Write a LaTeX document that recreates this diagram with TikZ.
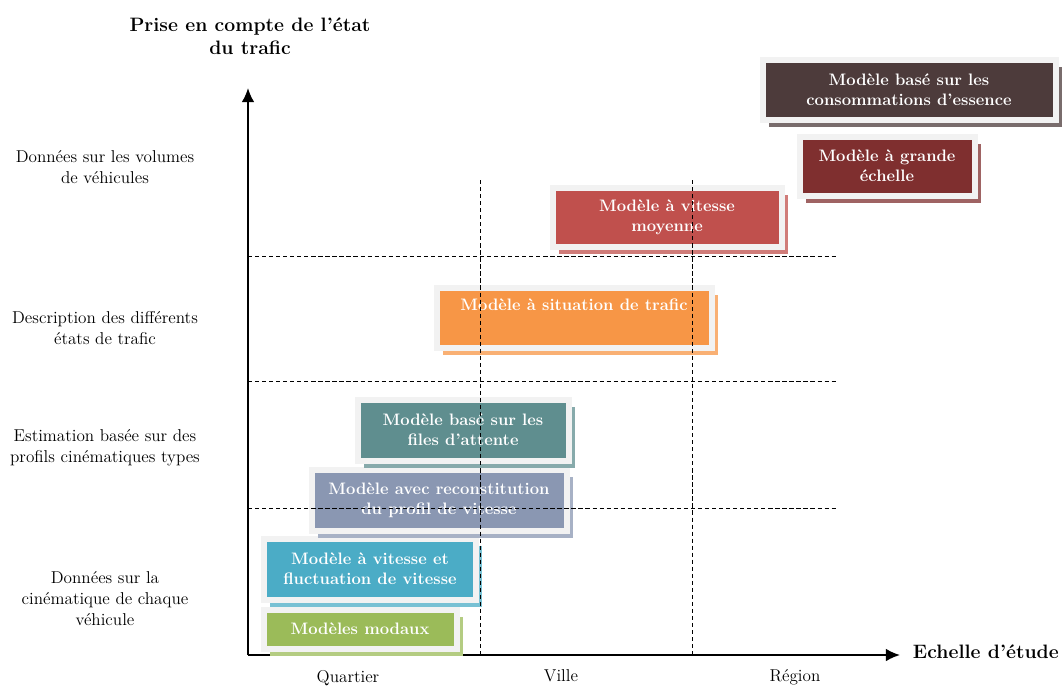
\documentclass[tikz,border=0pt]{standalone}
\usepackage{tikz}
\usetikzlibrary{
  positioning, arrows.meta,
  shadows
}
\definecolor{cadre}{HTML}{F2F2F2}
\definecolor{essence}{HTML}{4D3B3B}
\definecolor{grande}{HTML}{7F2F2F}
\definecolor{moyenne}{HTML}{C0504D}
\definecolor{situation}{HTML}{F79646}
\definecolor{attente}{HTML}{5F8E8F}
\definecolor{profil}{HTML}{8A97B2}
\definecolor{fluct}{HTML}{4BACC6}
\definecolor{modaux}{HTML}{9BBB59}

\tikzset{
  modele/.style={draw=cadre, line width=0.15cm, fill=#1, text=white,
    font=\fontsize{11.8}{14.2}\selectfont\bfseries, align=center, inner sep=0pt,
    drop shadow={shadow xshift=0.16cm, shadow yshift=-0.18cm,
      fill=#1!75!white, opacity=1}},
  dim/.style 2 args={minimum width=#1*0.025cm, minimum height=#2*0.025cm},
  niveau/.style={font=\fontsize{12.2}{14.9}\selectfont, align=center},
  echelle/.style={font=\fontsize{12.2}{14.9}\selectfont, anchor=north},
  grille/.style={line width=0.6pt, dash pattern=on 3pt off 2pt}
}

\begin{document}
\begin{tikzpicture}[x=0.025cm, y=-0.025cm]
      \useasboundingbox (0,0) rectangle (1062,686);
      % axes
      \coordinate (O) at (248,655);
      \coordinate (ytop) at (248,88);
      \coordinate (xend) at (900,655);
      \draw[line width=1.4pt, -{Latex[length=10pt,width=9pt]}] (O) -- (ytop);
      \draw[line width=1.4pt, -{Latex[length=10pt,width=9pt]}] (O) -- (xend);
      \node[font=\fontsize{13.8}{16.5}\selectfont\bfseries, align=center] (titre) at (250,36) {Prise en compte de l'état\\du trafic};
      \node[font=\fontsize{13.8}{16.5}\selectfont\bfseries, anchor=west] (etude) at (908,652) {Echelle d'étude};
      % niveaux (axe vertical)
      \node[niveau] (volumes) at (105,167) {Données sur les volumes\\de véhicules};
      \node[niveau] (etats) at (105,328) {Description des différents\\états de trafic};
      \node[niveau] (types) at (105,448) {Estimation basée sur des\\profils cinématiques types};
      \node[niveau] (cinem) at (105,599) {Données sur la\\cinématique de chaque\\véhicule};
      % echelles (axe horizontal)
      \node[echelle] (quartier) at (348,665) {Quartier};
      \node[echelle] (ville) at (561,665) {Ville};
      \node[echelle] (region) at (795,665) {Région};
      % modeles, du bas vers le haut
      \node[modele=modaux, dim={193}{39}] (modaux) at (360,629) {Modèles modaux};
      \node[modele=fluct, dim={212}{61}] (fluct) at (370,569) {Modèle à vitesse  et\\fluctuation de vitesse};
      \node[modele=profil, dim={255}{61}] (profil) at (439,500) {Modèle avec reconstitution\\du profil de vitesse};
      \node[modele=attente, dim={211}{61}] (attente) at (463,430) {Modèle basé sur les\\files d'attente};
      \node[modele=situation, dim={275}{60}] (situation) at (574,318) {Modèle à situation de trafic\\ \strut};
      \node[modele=moyenne, dim={229}{59}] (moyenne) at (667,217) {Modèle à vitesse\\moyenne};
      \node[modele=grande, dim={175}{59}] (grande) at (887,166) {Modèle à grande\\échelle};
      \node[modele=essence, dim={293}{60}] (essence) at (909,90) {Modèle basé sur les\\consommations d'essence};
      % grille en pointilles
      \foreach \y in {256,381,508} % limites des niveaux
      \draw[grille] (248,\y) -- (838,\y);
      \foreach \x in {480,692} % limites des echelles
      \draw[grille] (\x,180) -- (\x,655);
\end{tikzpicture}
\end{document}
